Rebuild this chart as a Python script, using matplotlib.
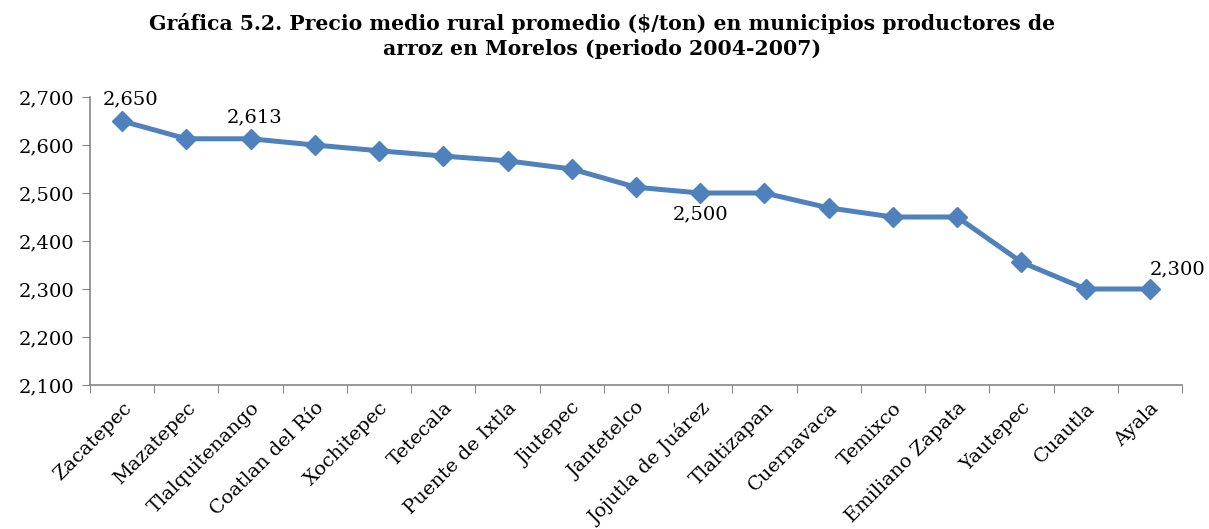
import matplotlib.pyplot as plt
from matplotlib.ticker import FuncFormatter

municipios = ['Zacatepec', 'Mazatepec', 'Tlalquitenango', 'Coatlan del Río',
              'Xochitepec', 'Tetecala', 'Puente de Ixtla', 'Jiutepec',
              'Jantetelco', 'Jojutla de Juárez', 'Tlaltizapan', 'Cuernavaca',
              'Temixco', 'Emiliano Zapata', 'Yautepec', 'Cuautla', 'Ayala']
precio = [2650, 2613, 2613, 2600, 2588, 2577, 2567, 2550,
          2512, 2500, 2500, 2469, 2450, 2450, 2356, 2300, 2300]

# puntos con etiqueta de valor: (indice, desplazamiento en puntos)
etiquetas = {0: (6, 9, 'center', 'bottom'),
             2: (3, 9, 'center', 'bottom'),
             9: (0, -9, 'center', 'top'),
             16: (0, 8, 'left', 'bottom')}

plt.rcParams['font.family'] = ['DejaVu Serif']

fig = plt.figure(figsize=(12.09, 5.29), dpi=100)
ax = fig.add_axes([0.0744, 0.2722, 0.9033, 0.5444])

x = list(range(len(municipios)))
ax.plot(x, precio, color='#4F81BD', linewidth=3.6, marker='D', markersize=10.5,
        markerfacecolor='#4F81BD', markeredgecolor='#4F81BD', zorder=3)

for i, (dx, dy, ha, va) in etiquetas.items():
    ax.annotate(f'{precio[i]:,}', (x[i], precio[i]), xytext=(dx, dy),
                textcoords='offset points', ha=ha, va=va, fontsize=14)

ax.set_xlim(-0.5, len(municipios) - 0.5)
ax.set_ylim(2100, 2700)
ax.set_yticks(range(2100, 2701, 100))
ax.yaxis.set_major_formatter(FuncFormatter(lambda v, p: f'{int(v):,}'))

# ticks entre categorias, etiquetas centradas
ax.set_xticks([i - 0.5 for i in range(len(municipios) + 1)])
ax.set_xticklabels([])
ax.set_xticks(x, minor=True)
ax.set_xticklabels(municipios, minor=True, rotation=45, ha='right',
                   rotation_mode='anchor', fontsize=14)
ax.tick_params(axis='x', which='minor', length=0, pad=10)
ax.tick_params(axis='x', which='major', length=6, color='#868686', direction='out')
ax.tick_params(axis='y', length=6, color='#868686', direction='out', labelsize=14, pad=5)

for side in ['top', 'right']:
    ax.spines[side].set_visible(False)
for side in ['left', 'bottom']:
    ax.spines[side].set_color('#868686')
    ax.spines[side].set_linewidth(1.2)

fig.suptitle('Gráfica 5.2. Precio medio rural promedio ($/ton) en municipios productores de\n'
             'arroz en Morelos (periodo 2004-2007)',
             fontsize=14.7, fontweight='bold', y=0.975, x=0.498, linespacing=1.3)

fig.savefig('out.png', dpi=100)
